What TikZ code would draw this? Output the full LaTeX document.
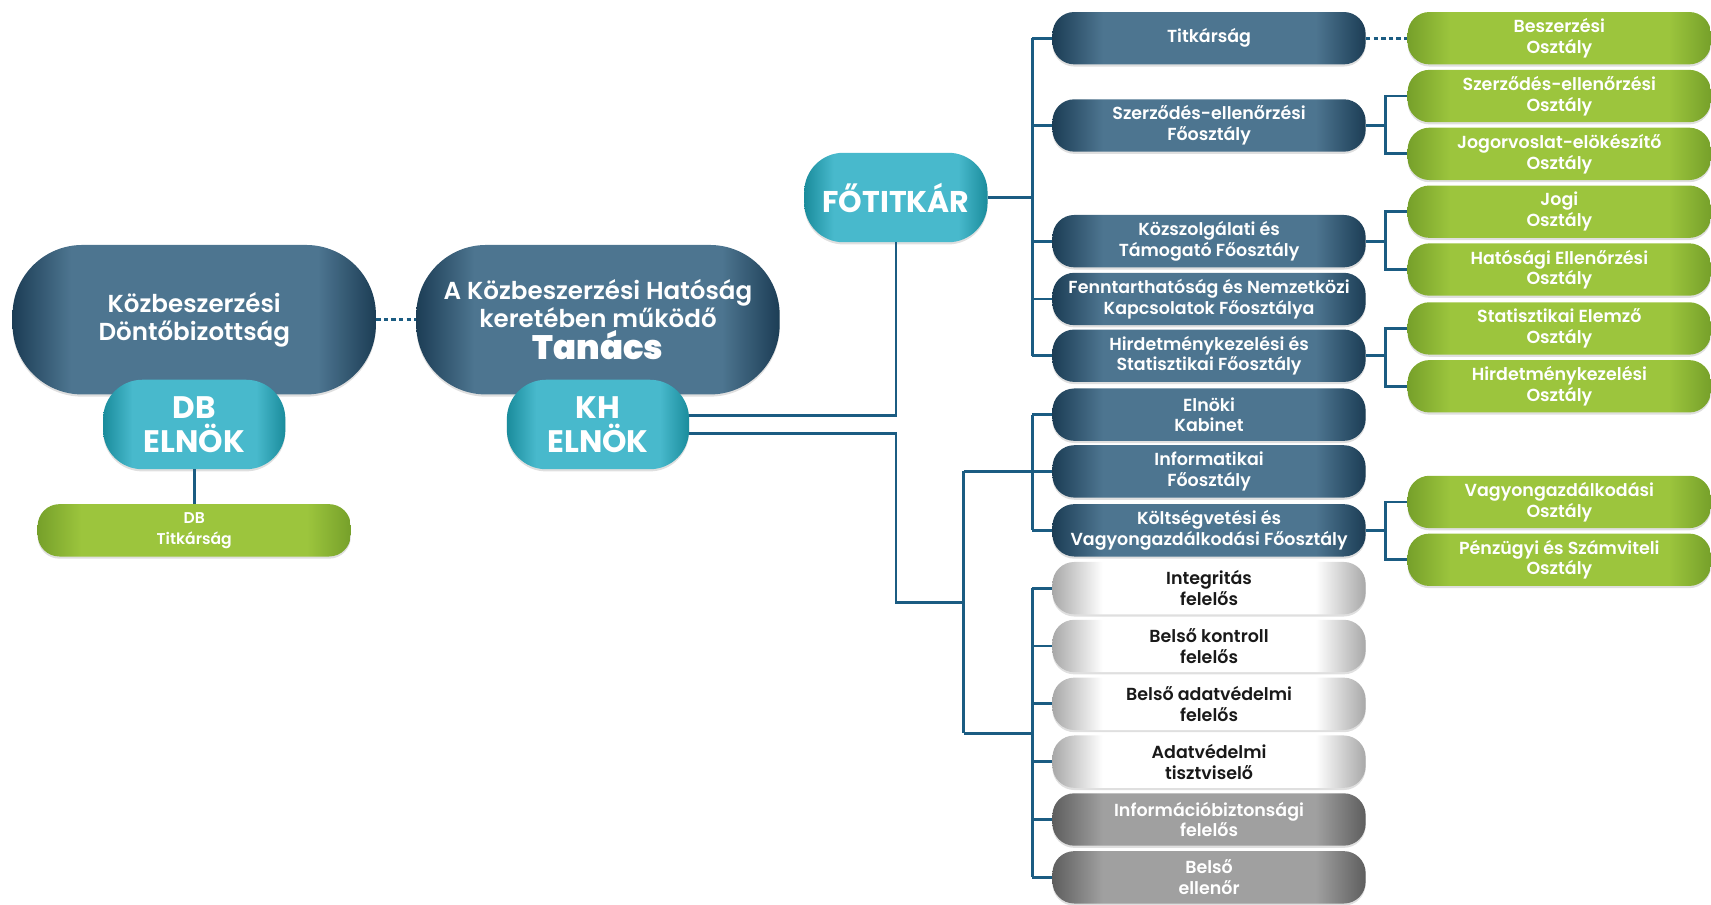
\documentclass[tikz,border=0pt]{standalone}
\usepackage{fontspec}
\setmainfont{Poppins}[BoldFont={Poppins SemiBold}]
\newfontfamily\heavyfont{Poppins}[UprightFont={* Bold}]
\usetikzlibrary{shadows}
\definecolor{navyE}{HTML}{1C3D55}
\definecolor{navyM}{HTML}{4D7590}
\definecolor{tealE}{HTML}{1A8C9C}
\definecolor{tealM}{HTML}{48B9CC}
\definecolor{greenE}{HTML}{76A02A}
\definecolor{greenM}{HTML}{9CC53D}
\definecolor{whiteE}{HTML}{A8A8A8}
\definecolor{grayE}{HTML}{5E5E5E}
\definecolor{grayM}{HTML}{A0A0A0}
\definecolor{lineC}{HTML}{1B5C82}
\pgfdeclarehorizontalshading{navyfill}{100bp}{color(0bp)=(navyE); color(25bp)=(navyE); color(33bp)=(navyM); color(67bp)=(navyM); color(75bp)=(navyE); color(100bp)=(navyE)}
\pgfdeclarehorizontalshading{tealfill}{100bp}{color(0bp)=(tealE); color(25bp)=(tealE); color(33bp)=(tealM); color(67bp)=(tealM); color(75bp)=(tealE); color(100bp)=(tealE)}
\pgfdeclarehorizontalshading{greenfill}{100bp}{color(0bp)=(greenE); color(25bp)=(greenE); color(32bp)=(greenM); color(68bp)=(greenM); color(75bp)=(greenE); color(100bp)=(greenE)}
\pgfdeclarehorizontalshading{whitefill}{100bp}{color(0bp)=(whiteE); color(25bp)=(whiteE); color(33bp)=(white); color(67bp)=(white); color(75bp)=(whiteE); color(100bp)=(whiteE)}
\pgfdeclarehorizontalshading{grayfill}{100bp}{color(0bp)=(grayE); color(25bp)=(grayE); color(33bp)=(grayM); color(67bp)=(grayM); color(75bp)=(grayE); color(100bp)=(grayE)}
\begin{document}
\begin{tikzpicture}[x=1pt,y=-1pt,
  box/.style={rounded corners=20pt, minimum width=287pt, minimum height=48pt, inner sep=0pt, align=center,
    text=white, font=\bfseries\fontsize{16}{19}\selectfont,
    drop shadow={shadow xshift=0pt, shadow yshift=-2pt, opacity=.25}},
  navy/.style={box, shading=navyfill},
  leaf/.style={box, minimum width=278pt, shading=greenfill},
  staff/.style={box, shading=whitefill, text=black!90},
  audit/.style={box, shading=grayfill},
  board/.style={box, rounded corners=64pt, minimum width=333pt, minimum height=137pt, shading=navyfill,
    font=\bfseries\fontsize{22.5}{25}\selectfont},
  chief/.style={box, rounded corners=36pt, minimum width=167pt, minimum height=82pt, shading=tealfill,
    font=\heavyfont\fontsize{28.5}{31}\selectfont},
  link/.style={draw=lineC, line width=2.5pt}]
\useasboundingbox (0,0) rectangle (1568,829);

% left part
\node[board] (kdb) at (178,293) {Közbeszerzési\\Döntőbizottság};
\node[board] (tanacs) at (548,293) {A Közbeszerzési Hatóság\\keretében működő\\[2pt]{\heavyfont\fontsize{31}{31}\selectfont Tanács}};
\node[chief] (dbelnok) at (178,389) {DB\\ELNÖK};
\node[chief] (khelnok) at (548,389) {KH\\ELNÖK};
\node[leaf, minimum width=287pt, font=\bfseries\fontsize{14.3}{19}\selectfont] (dbtit) at (178,486) {DB\\Titkárság};
\node[chief, minimum width=168pt, font=\heavyfont\fontsize{27.5}{30}\selectfont] (fotitkar) at (821,181) {FŐTITKÁR};

% middle column
\foreach \y/\n/\t in {35/tit/Titkárság, 115/szf/{Szerződés-ellenőrzési\\Főosztály},
  221/kozf/{Közszolgálati és\\Támogató Főosztály}, 274/fennf/{Fenntarthatóság és Nemzetközi\\Kapcsolatok Főosztálya},
  326/hirf/{Hirdetménykezelési és\\Statisztikai Főosztály}, 380/elnk/{Elnöki\\Kabinet},
  432/inff/{Informatikai\\Főosztály}, 486/koltf/{Költségvetési és\\Vagyongazdálkodási Főosztály}}
  {\node[navy] (\n) at (1108,\y) {\t};}
\foreach \y/\n/\t in {539/integr/{Integritás\\felelős}, 592/kontr/{Belső kontroll\\felelős},
  645/badat/{Belső adatvédelmi\\felelős}, 698/adatv/{Adatvédelmi\\tisztviselő}}
  {\node[staff] (\n) at (1108,\y) {\t};}
\node[audit] (infob) at (1108,751) {Információbiztonsági\\felelős};
\node[audit] (bell) at (1108,804) {Belső\\ellenőr};

% right column
\foreach \y/\n/\t in {35/besz/Beszerzési, 88/szo/Szerződés-ellenőrzési, 141/jogo/Jogorvoslat-elökészítő,
  194/jogi/Jogi, 247/hato/Hatósági Ellenőrzési, 301/stat/Statisztikai Elemző,
  354/hiro/Hirdetménykezelési, 460/vagy/Vagyongazdálkodási, 513/penz/Pénzügyi és Számviteli}
  {\node[leaf] (\n) at (1429,\y) {\t\\Osztály};}

% connectors
\coordinate (colA) at (946,181);
\coordinate (colB) at (1270,0);
\coordinate (bendA) at (821,552);
\coordinate (hubB) at (883,552);
\coordinate (hubT) at (883,432);
\coordinate (hubD) at (883,672);
\draw[link, dash pattern=on 4pt off 3pt] (kdb.east) -- (tanacs.west);
\draw[link, dash pattern=on 4pt off 3pt] (tit.east) -- (besz.west);
\draw[link] (dbelnok) -- (dbtit);
\draw[link] ([yshift=8pt]khelnok.east) -| (fotitkar.south);
\draw[link] ([yshift=-8pt]khelnok.east) -| (bendA) -- (hubB);
\draw[link] (hubT) -- (hubD);
\draw[link] (hubT) -- (hubT -| colA);
\draw[link] (hubD) -- (hubD -| colA);
\draw[link] (fotitkar.east) -- (colA);
\draw[link] (tit.west -| colA) -- (hirf.west -| colA);
\draw[link] (elnk.west -| colA) -- (koltf.west -| colA);
\draw[link] (integr.west -| colA) -- (bell.west -| colA);
\foreach \n in {tit,szf,kozf,fennf,hirf,elnk,inff,koltf,integr,kontr,badat,adatv,infob,bell}
  {\draw[link] (\n.west -| colA) -- (\n.west);}
\foreach \p/\a/\b in {szf/szo/jogo, kozf/jogi/hato, hirf/stat/hiro, koltf/vagy/penz}
  {\draw[link] (\p.east) -- (\p.east -| colB);
   \draw[link] (\a.west) -| (\b.west -| colB) -- (\b.west);}
\end{tikzpicture}
\end{document}
